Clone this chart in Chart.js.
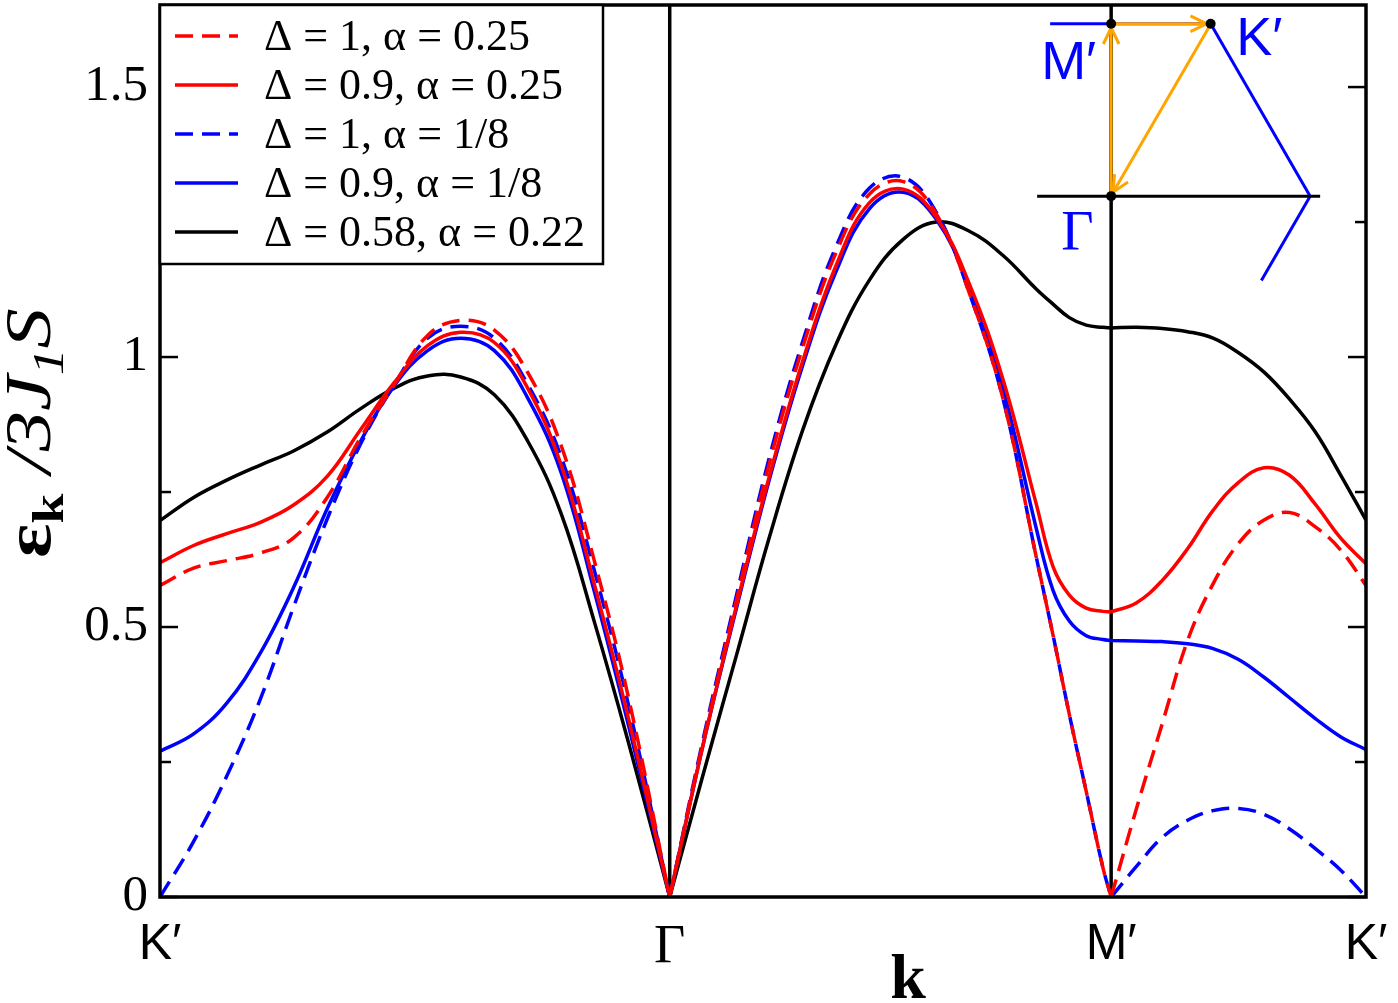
<!DOCTYPE html>
<html>
<head>
<meta charset="utf-8">
<script src="https://cdn.jsdelivr.net/npm/chart.js@4.4.1/dist/chart.umd.min.js"></script>
<style>
  html, body { margin: 0; padding: 0; background: #fff; }
  #wrap { width: 1398px; height: 1003px; }
</style>
</head>
<body>
<div id="wrap"><canvas id="bandChart"></canvas></div>
<script>
// path K' -> Γ -> M' -> K', k measured in units of |ΓK'| (Γ and M' appear twice = cusp)
const kPath = [
  0, 0.066, 0.131, 0.197, 0.262, 0.328, 0.393, 0.459, 0.525, 0.59, 0.656, 0.721, 0.787, 0.852, 0.918, 1.0,
  1.0, 1.065, 1.131, 1.196, 1.261, 1.327, 1.392, 1.458, 1.523, 1.588, 1.654, 1.719, 1.752, 1.784, 1.817, 1.85, 1.866,
  1.866, 1.916, 1.966, 2.016, 2.066, 2.116, 2.166, 2.216, 2.266, 2.316, 2.366
];

const kTicks = [0, 1, 1.866, 2.366];
const kLabels = ['K′', 'Γ', 'M′', 'K′'];
const yMajor = [0, 0.5, 1, 1.5];
const yMinor = [0.25, 0.75, 1.25];

const seriesLabels = ['Δ = 1, α = 0.25', 'Δ = 0.9, α = 0.25', 'Δ = 1, α = 1/8', 'Δ = 0.9, α = 1/8', 'Δ = 0.58, α = 0.22'];

const redDashed = [
  0.577, 0.609, 0.623, 0.637, 0.665, 0.74, 0.85, 0.948, 1.04, 1.068, 1.05, 0.972, 0.836, 0.623, 0.374, 0,
  0, 0.285, 0.55, 0.805, 1.018, 1.195, 1.302, 1.325, 1.265, 1.118, 0.922, 0.63, 0.485, 0.338, 0.196, 0.054, 0,
  0, 0.165, 0.32, 0.475, 0.58, 0.655, 0.698, 0.712, 0.686, 0.643, 0.577
];
const redSolid = [
  0.619, 0.651, 0.673, 0.694, 0.726, 0.779, 0.865, 0.952, 1.021, 1.046, 1.027, 0.943, 0.80, 0.58, 0.335, 0,
  0, 0.28, 0.54, 0.781, 0.993, 1.171, 1.286, 1.311, 1.259, 1.135, 0.958, 0.728, 0.612, 0.559, 0.535, 0.529, 0.528,
  0.528, 0.545, 0.586, 0.645, 0.716, 0.768, 0.795, 0.781, 0.728, 0.665, 0.617
];
const blueDashed = [
  0, 0.103, 0.224, 0.367, 0.537, 0.70, 0.838, 0.948, 1.035, 1.057, 1.035, 0.95, 0.815, 0.605, 0.36, 0,
  0, 0.29, 0.559, 0.816, 1.029, 1.206, 1.313, 1.333, 1.268, 1.118, 0.922, 0.63, 0.485, 0.338, 0.196, 0.054, 0,
  0, 0.057, 0.11, 0.142, 0.16, 0.164, 0.153, 0.126, 0.09, 0.05, 0
];
const blueSolid = [
  0.27, 0.302, 0.359, 0.452, 0.573, 0.719, 0.843, 0.946, 1.012, 1.035, 1.012, 0.925, 0.786, 0.566, 0.322, 0,
  0, 0.28, 0.535, 0.775, 0.985, 1.16, 1.275, 1.305, 1.255, 1.128, 0.94, 0.683, 0.568, 0.511, 0.484, 0.477, 0.475,
  0.475, 0.474, 0.473, 0.469, 0.46, 0.44, 0.407, 0.369, 0.331, 0.297, 0.273
];
const blackSolid = [
  0.697, 0.74, 0.772, 0.80, 0.826, 0.861, 0.904, 0.942, 0.965, 0.963, 0.93, 0.845, 0.71, 0.51, 0.29, 0,
  0, 0.225, 0.448, 0.668, 0.865, 1.025, 1.143, 1.218, 1.25, 1.233, 1.188, 1.126, 1.098, 1.073, 1.059, 1.055, 1.054,
  1.054, 1.055, 1.053, 1.047, 1.035, 1.008, 0.972, 0.922, 0.862, 0.782, 0.698
];

const serif = "'Liberation Serif', 'Times New Roman', serif";
const sans = "'Liberation Sans', Arial, sans-serif";
const dash = [18, 9];

// a null point between repeated k values breaks the line at Γ and M'
function toPoints(vals) {
  let pts = [];
  kPath.forEach((k, i) => {
    if (i > 0 && kPath[i - 1] === k) pts.push({x: k, y: null});
    pts.push({x: k, y: vals[i]});
  });
  return pts;
}

function line(ctx, x1, y1, x2, y2) {
  ctx.beginPath();
  ctx.moveTo(x1, y1);
  ctx.lineTo(x2, y2);
  ctx.stroke();
}

function arrow(ctx, x1, y1, x2, y2) {
  line(ctx, x1, y1, x2, y2);
  let ang = Math.atan2(y2 - y1, x2 - x1), L = 18, w = 0.45;
  ctx.beginPath();
  ctx.moveTo(x2 - L * Math.cos(ang - w), y2 - L * Math.sin(ang - w));
  ctx.lineTo(x2, y2);
  ctx.lineTo(x2 - L * Math.cos(ang + w), y2 - L * Math.sin(ang + w));
  ctx.stroke();
}

const decor = {
  id: 'decor',
  beforeDatasetsDraw(chart) {
    const {ctx, chartArea: a, scales: {x}} = chart;
    ctx.save();
    ctx.strokeStyle = '#000';
    ctx.lineWidth = 3.5;
    [kTicks[1], kTicks[2]].forEach(k => {
      let px = x.getPixelForValue(k);
      line(ctx, px, a.top, px, a.bottom);
    });
    ctx.restore();
  },
  afterDatasetsDraw(chart) {
    const {ctx, chartArea: a, scales: {x, y}} = chart;
    ctx.save();

    // frame + inner ticks on both sides
    ctx.strokeStyle = '#000';
    ctx.lineWidth = 3.5;
    ctx.strokeRect(a.left, a.top, a.right - a.left, a.bottom - a.top);
    ctx.lineWidth = 2.5;
    yMajor.forEach(v => {
      let py = y.getPixelForValue(v);
      line(ctx, a.left, py, a.left + 18, py);
      line(ctx, a.right - 18, py, a.right, py);
    });
    yMinor.forEach(v => {
      let py = y.getPixelForValue(v);
      line(ctx, a.left, py, a.left + 11, py);
      line(ctx, a.right - 11, py, a.right, py);
    });

    // inset: part of the Brillouin zone with the path
    let cx = x.getPixelForValue(kTicks[2]), cy = y.getPixelForValue(1.298);
    let R = 199, h = R * Math.sqrt(3) / 2;
    let M = [cx, cy - h], K = [cx + R / 2, cy - h], V = [cx + R, cy];
    ctx.strokeStyle = '#0000ff';
    ctx.lineWidth = 3;
    line(ctx, cx - 61, cy - h, K[0], K[1]);
    line(ctx, K[0], K[1], V[0], V[1]);
    line(ctx, V[0], V[1], V[0] - 0.49 * R / 2, cy + 0.49 * h);
    ctx.strokeStyle = '#000';
    line(ctx, cx - 74, cy, cx + 209, cy);
    ctx.strokeStyle = '#ffa500';
    ctx.lineWidth = 3;
    arrow(ctx, cx, cy - 4, M[0], M[1] + 4);
    arrow(ctx, M[0] + 4, M[1], K[0] - 4, K[1]);
    arrow(ctx, K[0] - 2, K[1] + 4, cx + 2, cy - 4);
    ctx.fillStyle = '#000';
    [M, K, [cx, cy]].forEach(p => {
      ctx.beginPath();
      ctx.arc(p[0], p[1], 5, 0, Math.PI * 2);
      ctx.fill();
    });
    ctx.fillStyle = '#0000ff';
    ctx.textAlign = 'left';
    ctx.textBaseline = 'alphabetic';
    ctx.font = '54px ' + sans;
    ctx.fillText('M′', cx - 70, cy - 117);
    ctx.fillText('K′', cx + 125, cy - 141);
    ctx.font = '56px ' + serif;
    ctx.fillText('Γ', cx - 50, cy + 54);

    // legend box
    ctx.fillStyle = '#fff';
    ctx.fillRect(a.left, a.top, 443, 259);
    ctx.strokeStyle = '#000';
    ctx.lineWidth = 2.5;
    ctx.strokeRect(a.left, a.top, 443, 259);
    chart.data.datasets.forEach((ds, i) => {
      let ly = a.top + 31 + 49 * i;
      ctx.strokeStyle = ds.borderColor;
      ctx.lineWidth = 3.5;
      ctx.setLineDash(ds.borderDash || []);
      line(ctx, a.left + 15, ly, a.left + 78, ly);
      ctx.setLineDash([]);
      ctx.fillStyle = '#000';
      ctx.font = '44px ' + serif;
      ctx.fillText(ds.label, a.left + 104, ly + 14);
    });

    // axis titles
    ctx.fillStyle = '#000';
    ctx.textAlign = 'center';
    ctx.font = 'bold 64px ' + serif;
    ctx.fillText('k', 908, 998);

    ctx.textAlign = 'left';
    ctx.translate(50, 558);
    ctx.rotate(-Math.PI / 2);
    ctx.scale(1.22, 1);
    let parts = [
      {t: 'ε', f: 'bold 66px ', dy: 0},
      {t: 'k', f: 'bold 44px ', dy: 13},
      {t: ' /3J', f: 'italic 66px ', dy: 0},
      {t: '1', f: 'italic 44px ', dy: 13},
      {t: 'S', f: 'italic 66px ', dy: 0}
    ];
    let tx = 0;
    parts.forEach(p => {
      ctx.font = p.f + serif;
      ctx.fillText(p.t, tx, p.dy);
      tx += ctx.measureText(p.t).width;
    });
    ctx.restore();
  }
};

const ctx = document.getElementById('bandChart').getContext('2d');

const bandChart = new Chart(ctx, {
  type: 'line',
  data: {
    datasets: [
      {label: seriesLabels[0], data: toPoints(redDashed), borderColor: '#ff0000', borderDash: dash},
      {label: seriesLabels[1], data: toPoints(redSolid), borderColor: '#ff0000'},
      {label: seriesLabels[2], data: toPoints(blueDashed), borderColor: '#0000ff', borderDash: dash},
      {label: seriesLabels[3], data: toPoints(blueSolid), borderColor: '#0000ff'},
      {label: seriesLabels[4], data: toPoints(blackSolid), borderColor: '#000000'}
    ]
  },
  options: {
    responsive: true,
    maintainAspectRatio: false,
    animation: false,
    layout: {padding: {top: 5, right: 32, left: 0, bottom: 0}},
    elements: {
      point: {radius: 0},
      line: {borderWidth: 3.5, tension: 0.4, fill: false}
    },
    plugins: {
      legend: {display: false},
      tooltip: {enabled: false}
    },
    scales: {
      x: {
        type: 'linear',
        min: 0,
        max: 2.366,
        grid: {display: false, drawTicks: false},
        border: {display: false},
        afterBuildTicks: s => { s.ticks = kTicks.map(v => ({value: v})); },
        afterFit: s => { s.height = 106; s.paddingLeft = 0; s.paddingRight = 0; },
        ticks: {
          padding: 18,
          maxRotation: 0,
          autoSkip: false,
          color: '#000',
          callback: (v, i) => kLabels[i],
          font: c => c.index === 1 ? {family: serif, size: 54} : {family: sans, size: 50}
        }
      },
      y: {
        min: 0,
        max: 1.652,
        grid: {display: false, drawTicks: false},
        border: {display: false},
        afterBuildTicks: s => { s.ticks = yMajor.map(v => ({value: v})); },
        afterFit: s => { s.width = 160; s.paddingTop = 0; s.paddingBottom = 0; },
        ticks: {
          padding: 12,
          color: '#000',
          font: {family: serif, size: 51},
          callback: v => String(v)
        }
      }
    }
  },
  plugins: [decor]
});
</script>
</body>
</html>
